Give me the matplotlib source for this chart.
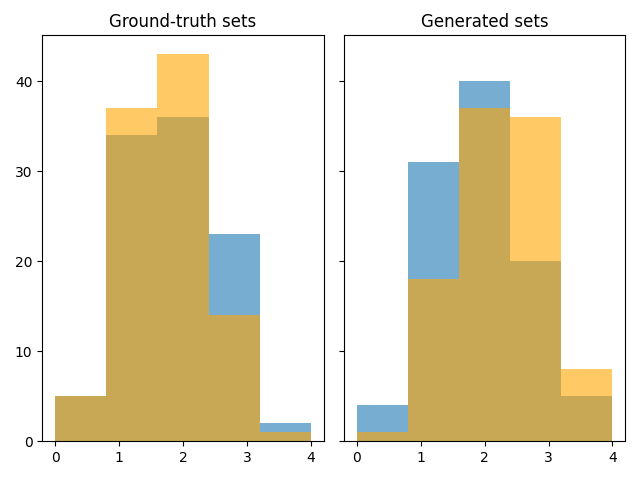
import numpy as np
import matplotlib
matplotlib.use("Agg")
from matplotlib import pyplot as plt

# bin edges: 5 bins between 0 and 4
edges = np.linspace(0, 4, 6)
centers = (edges[:-1] + edges[1:]) / 2

# counts
gt_blue = [5, 34, 36, 23, 2]
gt_orange = [5, 37, 43, 14, 1]
gen_blue = [4, 31, 40, 20, 5]
gen_orange = [1, 18, 37, 36, 8]

fig, axes = plt.subplots(1, 2, sharey=True, figsize=(6.4, 4.8), dpi=100)

axes[0].hist(centers, bins=edges, weights=gt_blue, color='tab:blue', alpha=0.6)
axes[0].hist(centers, bins=edges, weights=gt_orange, color='orange', alpha=0.6)
axes[0].set_title('Ground-truth sets')

axes[1].hist(centers, bins=edges, weights=gen_blue, color='tab:blue', alpha=0.6)
axes[1].hist(centers, bins=edges, weights=gen_orange, color='orange', alpha=0.6)
axes[1].set_title('Generated sets')

# layout matched by hand to the reference
plt.subplots_adjust(left=0.066, right=0.977, top=0.927, bottom=0.081, wspace=0.071)
plt.savefig('out.png')
